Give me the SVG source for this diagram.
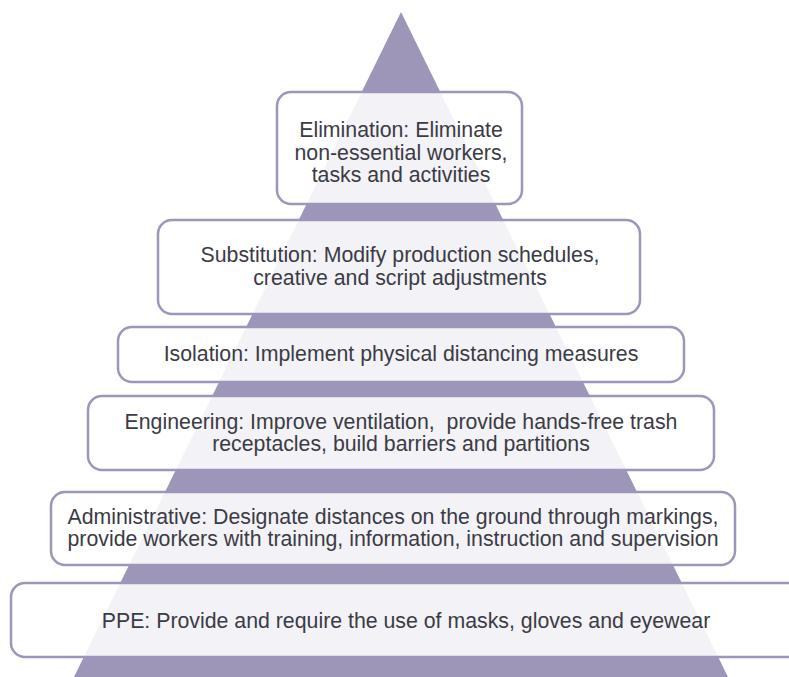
<svg xmlns="http://www.w3.org/2000/svg" width="789" height="677" viewBox="0 0 789 677">
<style>
.box{fill:#ffffff;fill-opacity:0.88;stroke:#9d96ba;stroke-width:2.5}
.t{font-family:"Liberation Sans",Arial,sans-serif;font-size:21.3px;fill:#3b3b45;text-anchor:middle}
</style>
<rect width="789" height="677" fill="#ffffff"/>
<g id="pyramid">
<polygon points="401,12 74,677 728,677" fill="#9d96b8"/>
</g>
<g id="connectors"></g>
<g id="elimination">
<rect class="box" x="277" y="92" width="245" height="112" rx="14"/>
<text class="t" x="401" y="137">Elimination: Eliminate</text>
<text class="t" x="401" y="159.5">non-essential workers,</text>
<text class="t" x="401" y="182">tasks and activities</text>
</g>
<g id="substitution">
<rect class="box" x="158" y="220" width="482" height="94" rx="14"/>
<text class="t" x="400" y="262">Substitution: Modify production schedules,</text>
<text class="t" x="400" y="284.5">creative and script adjustments</text>
</g>
<g id="isolation">
<rect class="box" x="118" y="327" width="566" height="55" rx="14"/>
<text class="t" x="401" y="361">Isolation: Implement physical distancing measures</text>
</g>
<g id="engineering">
<rect class="box" x="88" y="396" width="626" height="74" rx="14"/>
<text class="t" x="401" y="428.5" xml:space="preserve">Engineering: Improve ventilation,  provide hands-free trash</text>
<text class="t" x="401" y="451">receptacles, build barriers and partitions</text>
</g>
<g id="administrative">
<rect class="box" x="51" y="492" width="684" height="73" rx="14"/>
<text class="t" x="393" y="523.5">Administrative: Designate distances on the ground through markings,</text>
<text class="t" x="393" y="546">provide workers with training, information, instruction and supervision</text>
</g>
<g id="ppe">
<rect class="box" x="11" y="583" width="800" height="74" rx="14"/>
<text class="t" x="406" y="628">PPE: Provide and require the use of masks, gloves and eyewear</text>
</g>
</svg>
